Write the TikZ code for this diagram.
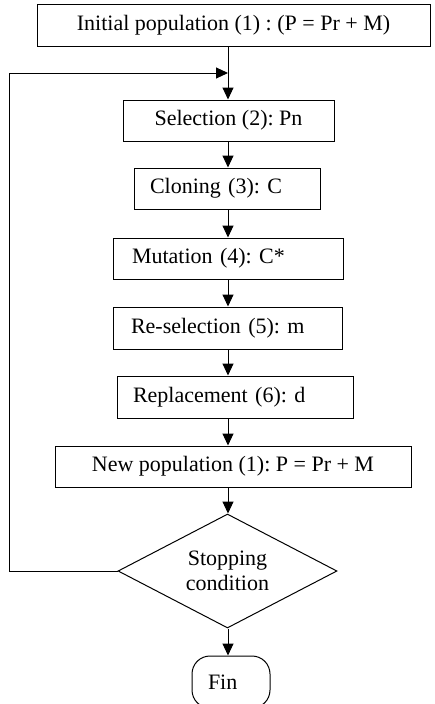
\documentclass[tikz,border=0pt]{standalone}
\usepackage{fontspec}
\setmainfont{Liberation Serif}
\usetikzlibrary{graphs,shapes.geometric,arrows.meta}
\tikzstyle{node} = [draw, rectangle, line width=1pt, minimum height=41pt, inner ysep=0pt, font=\fontsize{22}{25}\selectfont\frenchspacing]
\tikzstyle{arrow} = [line width=1pt, -{Triangle[length=12pt,width=11pt]}]

\begin{document}
\begin{tikzpicture}[x=1pt, y=-1pt]
    \useasboundingbox (0,0) rectangle (435,704);
    \coordinate (j) at (228,73);

    \node[node, minimum width=393pt, minimum height=42pt](1) at (233.5,25) {Initial population (1) : (P = Pr + M)};
    \node[node, minimum width=211pt](2) at (228.5,120.5) {Selection (2): Pn};
    \node[node, inner xsep=16pt, text width=154pt, align=left](3) at (227,188.5) {Cloning (3): C};
    \node[node, inner xsep=19pt, text width=192pt, align=left](4) at (228,258.5) {Mutation (4): C*};
    \node[node, inner xsep=18pt, text width=193pt, align=left, minimum height=42pt](5) at (227.5,328) {Re-selection (5): m};
    \node[node, inner xsep=16pt, text width=204pt, align=left, minimum height=42pt](6) at (235,397) {Replacement (6): d};
    \node[node, minimum width=356pt](7) at (233,466.5) {New population (1): P = Pr + M};
    \node[node, diamond, aspect=1.9, inner sep=0pt, minimum width=219pt, minimum height=114pt, align=center](8) at (227.5,571) {Stopping\\condition};
    \node[node, rounded corners=18pt, minimum height=52pt, inner xsep=16pt, text width=46pt, align=left](9) at (231,682) {Fin};

    \graph[edges={arrow, to path={(\tikztostart.south -| j) -- (\tikztotarget.north -| j)}}] {
        (1) -> (2) -> (3) -> (4) -> (5) -> (6) -> (7) -> (8) -> (9);
    };

    \draw[arrow] (8.west) -- ++(-108.5,0) |- (j);
\end{tikzpicture}
\end{document}
